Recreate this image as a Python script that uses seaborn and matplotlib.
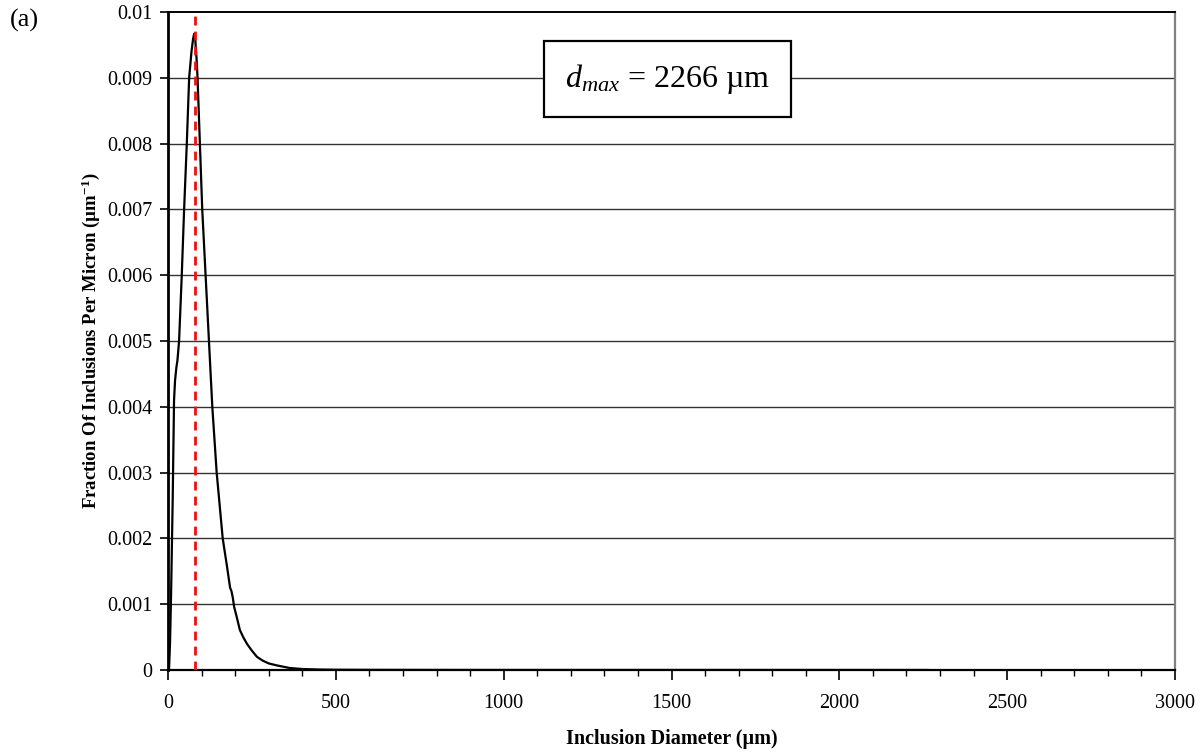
import matplotlib
matplotlib.use("Agg")
import matplotlib.pyplot as plt
import seaborn as sns
import pandas as pd
from matplotlib.ticker import FixedLocator, MultipleLocator

# Size distribution of inclusions (diameter in microns, fraction per micron)
diameter_um = [0, 3, 6, 9, 14, 18, 21, 25, 28, 33, 41, 48, 56, 63, 70, 75, 78,
               81, 85, 88, 95, 102, 112, 122, 132, 145, 163, 175, 185, 189, 193,
               197, 205, 214, 224, 235, 249, 265, 283, 300, 324, 363, 400, 450,
               500, 600, 800, 1000, 1500, 2000, 2266]
fraction_per_um = [0.0, 0.0, 0.0004, 0.0011, 0.0026, 0.0041, 0.0044, 0.0046,
                   0.0047, 0.0050, 0.0060, 0.0070, 0.0080, 0.0090, 0.0094,
                   0.0096, 0.00967, 0.0096, 0.0093, 0.0090, 0.0080, 0.0070,
                   0.0060, 0.0050, 0.0040, 0.0030, 0.0020, 0.0016, 0.00125,
                   0.0012, 0.0011, 0.00096, 0.0008, 0.00061, 0.0005, 0.0004,
                   0.0003, 0.0002, 0.00014, 0.0001, 0.00007, 0.00003, 0.000015,
                   0.000007, 0.000004, 0.000002, 0.000001, 0.0000005,
                   0.0000003, 0.0000002, 0.0]

mode_diameter = 80
d_max = 2266

x_ticks = [0, 500, 1000, 1500, 2000, 2500, 3000]
y_ticks = [0, 0.001, 0.002, 0.003, 0.004, 0.005, 0.006, 0.007, 0.008, 0.009, 0.01]
y_tick_labels = ["0", "0.001", "0.002", "0.003", "0.004", "0.005", "0.006",
                 "0.007", "0.008", "0.009", "0.01"]

sns.set_style("white")
plt.rcParams["font.family"] = ["Liberation Serif", "DejaVu Serif"]
plt.rcParams["mathtext.fontset"] = "custom"
plt.rcParams["mathtext.rm"] = "Liberation Serif"
plt.rcParams["mathtext.it"] = "Liberation Serif:italic"
plt.rcParams["mathtext.bf"] = "Liberation Serif:bold"
plt.rcParams["text.color"] = "black"
plt.rcParams["axes.labelcolor"] = "black"

fig = plt.figure(figsize=(12.03, 7.54), dpi=100)
ax = fig.add_axes([168 / 1203, 1 - 670 / 754, (1175 - 168) / 1203, (670 - 12) / 754])

df = pd.DataFrame({"d": diameter_um, "f": fraction_per_um})

# horizontal gridlines
for yv in y_ticks[1:-1]:
    ax.axhline(yv, color="#333333", lw=1.0, zorder=1)

sns.lineplot(data=df, x="d", y="f", ax=ax, color="black", lw=1.6, sort=False,
             zorder=3)
ax.axvline(mode_diameter, color="#ee1111", lw=2.0, ls=(0, (3.2, 2.2)), zorder=4)

ax.set_xlim(0, 3000)
ax.set_ylim(0, 0.01)
ax.xaxis.set_major_locator(FixedLocator(x_ticks))
ax.xaxis.set_minor_locator(MultipleLocator(100))
ax.yaxis.set_major_locator(FixedLocator(y_ticks))
ax.set_yticklabels(y_tick_labels)
ax.set_xticklabels([str(v) for v in x_ticks])

ax.tick_params(axis="both", which="major", direction="out", length=6, width=1.2,
               labelsize=14.5, colors="black", pad=5)
ax.tick_params(axis="x", which="minor", direction="out", length=4, width=1.0,
               bottom=True, colors="black")
ax.tick_params(axis="x", which="major", length=7, bottom=True, pad=10)
ax.tick_params(axis="y", which="major", left=True)

for side in ["left", "bottom"]:
    ax.spines[side].set_color("black")
ax.spines["left"].set_linewidth(2.0)
ax.spines["bottom"].set_linewidth(1.6)
ax.spines["top"].set_color("black")
ax.spines["top"].set_linewidth(1.4)
ax.spines["right"].set_color("#808080")
ax.spines["right"].set_linewidth(1.6)

ax.set_xlabel("Inclusion Diameter (µm)", fontsize=14.5, fontweight="bold",
              labelpad=12)
ax.set_ylabel(r"Fraction Of Inclusions Per Micron (µm$^{\mathbf{-1}}$)",
              fontsize=13.5, fontweight="bold", labelpad=4)

ax.text(0.496, 0.898, rf"$d_{{max}}$ = {d_max} µm", transform=ax.transAxes,
        ha="center", va="center", fontsize=23, zorder=6, color="black",
        bbox=dict(boxstyle="square,pad=0.65", fc="white", ec="black", lw=1.6))

fig.text(10 / 1203, 1 - 20 / 754, "(a)", fontsize=19, ha="left", va="center")

fig.savefig("out.png", dpi=100)
